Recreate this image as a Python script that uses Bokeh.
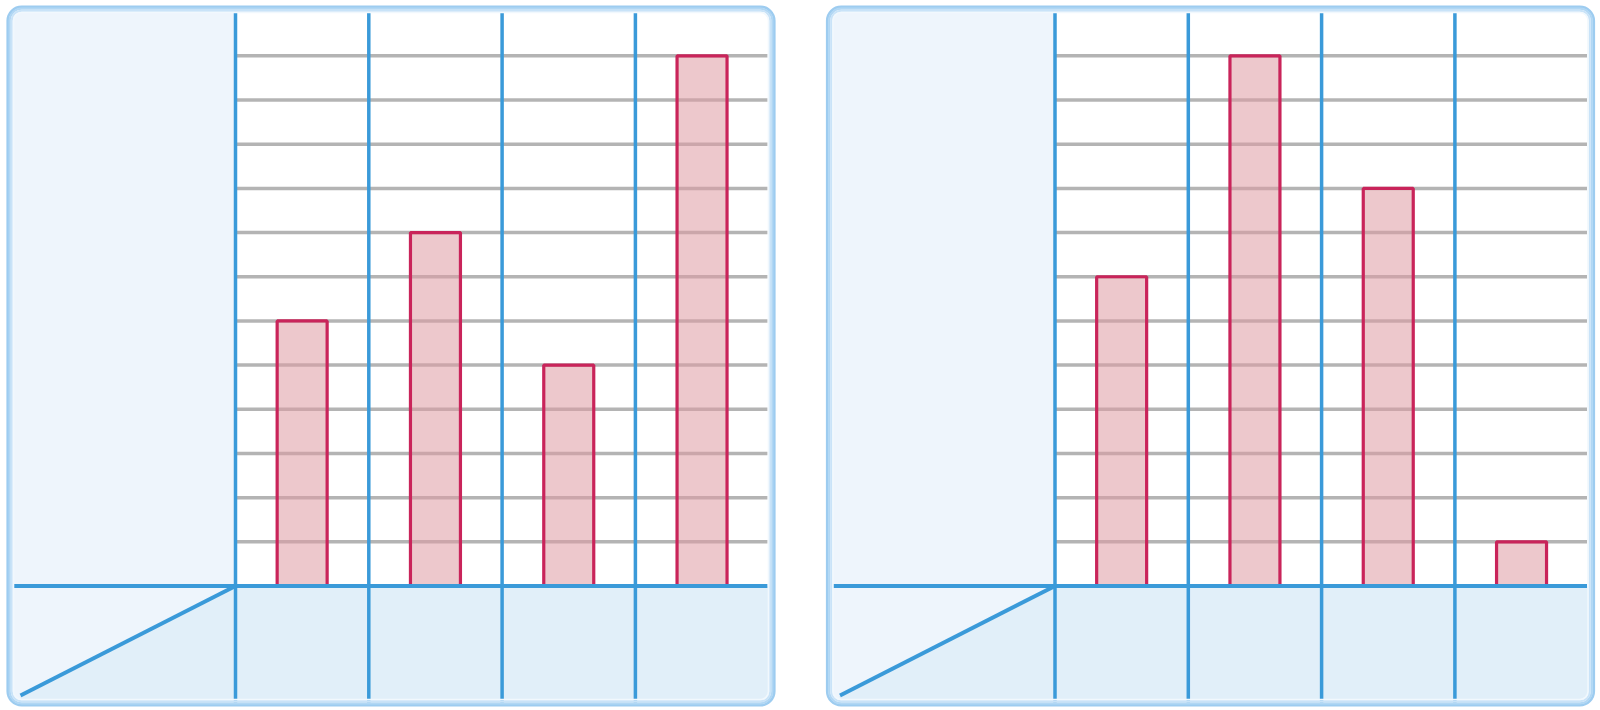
from bokeh.plotting import figure
from bokeh.layouts import row
from bokeh.models import BoxAnnotation
from bokeh.embed import file_html
from bokeh.resources import INLINE

# ---- data ----
columns = ["A", "B", "C", "D"]
left_values = [6, 8, 5, 12]
right_values = [7, 12, 9, 1]
grid_levels = list(range(1, 13))
bar_width = 0.375

# ---- styling / geometry (pixels) ----
W, H = 800, 710
UX = 133.3      # px per column
UY = 44.18      # px per unit
BASE = 585.5    # baseline pixel row (from top)

BLUE = "#3A9AD9"
GRAY = "#B4B4B4"
STRIP = "#EEF5FC"
FLOOR = "#E1EFF9"
BAR_LINE = "#C9245A"
BAR_FILL = "#DE9AA3"


def make_panel(values, shift):
    ax = 235 + shift

    def X(px):
        return (px - ax) / UX

    def Y(py):
        return (BASE - py) / UY

    p = figure(width=W, height=H, x_range=(X(0), X(W)), y_range=(Y(H), Y(0)),
               output_backend="svg", toolbar_location=None, min_border=0,
               x_axis_type=None, y_axis_type=None)
    p.grid.visible = False
    p.outline_line_color = None
    p.background_fill_color = "white"
    p.border_fill_color = "white"

    L0, R0, T0, B0 = 6 + shift, 775 + shift, 5, 706
    right_in = 768 + shift

    # background fills
    p.add_layout(BoxAnnotation(left=X(L0 + 5), right=X(R0 - 5), top=Y(T0 + 5), bottom=Y(B0 - 5),
                               fill_color=STRIP, fill_alpha=1, line_color=None,
                               border_radius=10, level="underlay"))
    p.add_layout(BoxAnnotation(left=X(ax), right=X(right_in), top=Y(T0 + 6), bottom=Y(BASE),
                               fill_color="white", fill_alpha=1, line_color=None,
                               level="underlay"))
    p.add_layout(BoxAnnotation(left=X(ax), right=X(R0 - 5), top=Y(BASE), bottom=Y(B0 - 5),
                               fill_color=FLOOR, fill_alpha=1, line_color=None,
                               border_radius=(0, 0, 9, 0), level="underlay"))
    p.patch([0, X(19 + shift), X(22 + shift), 0], [0, Y(696), Y(B0 - 6), Y(B0 - 6)],
            fill_color=FLOOR, line_color=None)

    # grid lines
    n = len(columns)
    p.segment(x0=[0] * len(grid_levels), x1=[X(767 + shift)] * len(grid_levels),
              y0=grid_levels, y1=grid_levels, line_color=GRAY, line_width=3.5)

    # bars
    xs = [i + 0.5 for i in range(n)]
    p.vbar(x=xs, top=values, bottom=0, width=bar_width,
           fill_color=BAR_FILL, fill_alpha=0.55, line_color=BAR_LINE, line_width=3.2)

    # blue structure lines
    p.segment(x0=list(range(n)), x1=list(range(n)), y0=[Y(702)] * n, y1=[Y(11.7)] * n,
              line_color=BLUE, line_width=3.5)
    p.segment(x0=[X(13 + shift)], x1=[X(767 + shift)], y0=[0], y1=[0],
              line_color=BLUE, line_width=4)
    p.line([0, X(20 + shift)], [0, Y(695)], line_color=BLUE, line_width=4)

    # rounded glowing border
    layers = [(1.2, 2.6, "#9DCCF0", 14), (3.2, 2.2, "#B1D7F4", 12),
              (5.2, 2.0, "#C9E3F8", 10), (7.0, 1.6, "#F1F8FD", 8)]
    for inset, lw, col, rad in layers:
        p.add_layout(BoxAnnotation(left=X(L0 + inset), right=X(R0 - inset),
                                   top=Y(T0 + inset), bottom=Y(B0 - inset),
                                   fill_alpha=0, line_color=col, line_width=lw,
                                   line_alpha=1, border_radius=rad))
    return p


p1 = make_panel(left_values, 0)
p2 = make_panel(right_values, 19.5)
layout = row(p1, p2)

open("out.html", "w").write(file_html(layout, INLINE))
